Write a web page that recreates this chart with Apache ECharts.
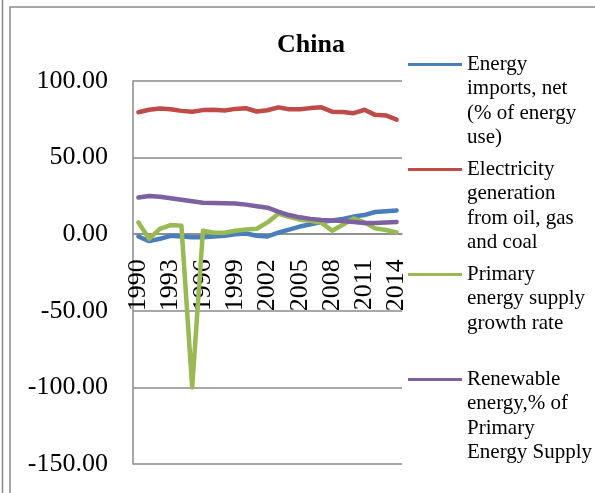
<!DOCTYPE html>
<html>
<head>
<meta charset="utf-8">
<script src="https://cdn.jsdelivr.net/npm/echarts@6/dist/echarts.min.js"></script>
<style>
  html, body { margin: 0; padding: 0; background: #fff; }
  #chart { width: 595px; height: 493px; }
</style>
</head>
<body>
<div id="chart"></div>
<script>
// years on the category axis
const years = ['1990', '1991', '1992', '1993', '1994', '1995', '1996', '1997', '1998', '1999',
  '2000', '2001', '2002', '2003', '2004', '2005', '2006', '2007', '2008', '2009',
  '2010', '2011', '2012', '2013', '2014'];

// values
const energyImports = [-1.5, -4.5, -3, -1, -1.5, -2, -2, -1.5, -1, 0,
  0.5, -1, -1.5, 1, 3, 5, 6.5, 8, 9, 10,
  11.5, 12.5, 14.5, 15, 15.5];
const electricityFossil = [79.6, 81.2, 82.0, 81.5, 80.5, 79.9, 81.0, 81.2, 80.8, 81.8,
  82.2, 80.1, 80.9, 82.8, 81.6, 81.6, 82.3, 82.8, 80.0, 79.8,
  79.0, 81.2, 77.9, 77.5, 74.8];
const supplyGrowth = [7.7, -3, 3.5, 6, 5.5, -100, 2.3, 1, 1, 2.3,
  3, 3.6, 7.7, 13.4, 11.4, 9.5, 8.8, 7.5, 2.3, 6.2,
  10.3, 7.7, 3.8, 2.7, 1.2];
const renewableShare = [24, 25, 24.5, 23.5, 22.5, 21.5, 20.5, 20.3, 20.2, 20,
  19.3, 18.3, 17.3, 14.7, 12.5, 11, 10, 9.3, 9, 8.6,
  8, 7.3, 7.3, 7.6, 8];

// y axis range
const yMin = -150;
const yMax = 100;
const yStep = 50;

const seriesNames = [
  'Energy imports, net (% of energy use)',
  'Electricity generation from oil, gas and coal',
  'Primary energy supply growth rate',
  'Renewable energy,% of Primary Energy Supply'
];
// how each legend entry wraps
const legendLabels = [
  'Energy\nimports, net\n(% of energy\nuse)',
  'Electricity\ngeneration\nfrom oil, gas\nand coal',
  'Primary\nenergy supply\ngrowth rate\n ',
  'Renewable\nenergy,% of\nPrimary\nEnergy Supply'
];
const colors = ['#4a7ebb', '#be4b48', '#98b954', '#7d60a0'];

const serif = '"Liberation Serif", "DejaVu Serif", serif';
const axisGray = '#8a8a8a';

const gridTop = 81;
const gridHeight = 383;
// category axis sits on the zero line, so lift it from the bottom edge
const zeroLift = gridHeight * (0 - yMin) / (yMax - yMin);

const chart = echarts.init(document.getElementById('chart'));

const seriesData = [energyImports, electricityFossil, supplyGrowth, renewableShare];

chart.setOption({
  animation: false,
  color: colors,
  title: {
    text: 'China',
    left: 306,
    textAlign: 'center',
    top: 27,
    textStyle: { fontFamily: serif, fontSize: 26, fontWeight: 'bold', color: '#000' }
  },
  // chart border like the spreadsheet frame
  graphic: [
    { type: 'line', shape: { x1: 2.5, y1: 0, x2: 2.5, y2: 493 }, style: { stroke: axisGray, lineWidth: 1.5 } },
    { type: 'rect', shape: { x: 10, y: 7, width: 600, height: 500 }, style: { fill: 'none', stroke: axisGray, lineWidth: 1.5 } }
  ],
  legend: {
    orient: 'vertical',
    left: 408,
    top: 50,
    padding: 0,
    itemGap: 3,
    itemWidth: 54,
    itemHeight: 98,
    // thin stripe near the top of a tall box so it sits beside the first text line
    icon: 'path://M0,0L0,0M0,11H54V14H0ZM54,98L54,98',
    itemStyle: { borderWidth: 0 },
    data: seriesNames,
    formatter: name => legendLabels[seriesNames.indexOf(name)],
    textStyle: { fontFamily: serif, fontSize: 21, lineHeight: 24.5, color: '#000', padding: [4, 0, 0, 0] }
  },
  grid: { left: 133, top: gridTop, width: 269, height: gridHeight, outerBoundsMode: 'none', containLabel: false },
  xAxis: {
    type: 'category',
    data: years,
    boundaryGap: true,
    offset: -zeroLift,
    axisLine: { onZero: false, lineStyle: { color: axisGray, width: 1.5 } },
    axisTick: { show: false },
    axisLabel: {
      interval: 2,
      rotate: 90,
      margin: 25,
      fontFamily: serif,
      fontSize: 26,
      color: '#000'
    }
  },
  yAxis: {
    type: 'value',
    min: yMin,
    max: yMax,
    interval: yStep,
    axisLine: { show: true, lineStyle: { color: axisGray, width: 1.5 } },
    axisTick: { show: false },
    splitLine: { lineStyle: { color: axisGray, width: 1.5 } },
    axisLabel: {
      margin: 25,
      fontFamily: serif,
      fontSize: 26,
      color: '#000',
      formatter: v => v.toFixed(2)
    }
  },
  series: seriesNames.map((name, i) => ({
    name: name,
    type: 'line',
    data: seriesData[i],
    symbol: 'none',
    lineStyle: { width: 4.5, join: 'round', cap: 'round' }
  }))
});
</script>
</body>
</html>
